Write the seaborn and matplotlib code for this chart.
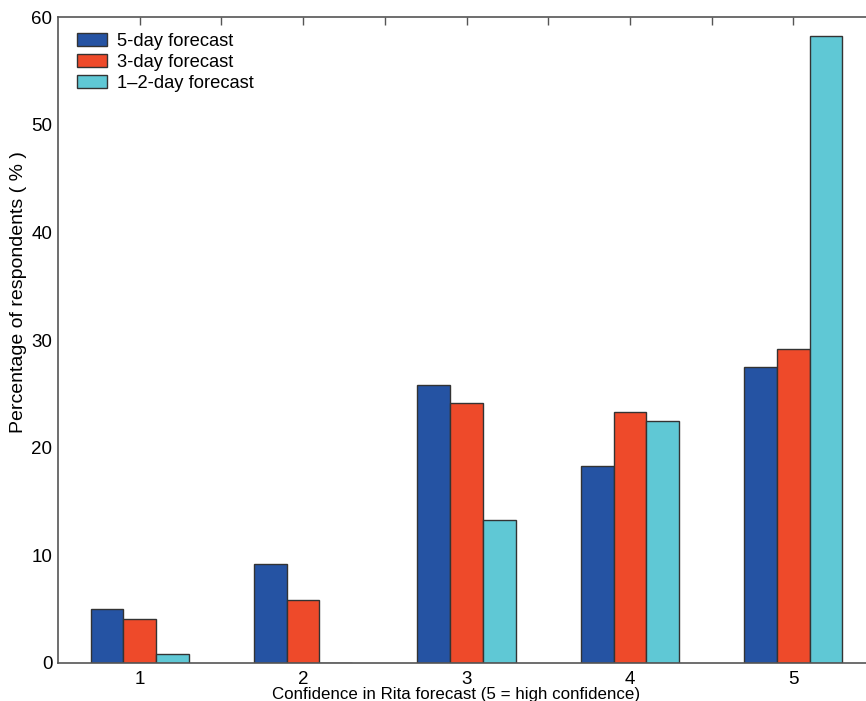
import matplotlib
matplotlib.use("Agg")
import matplotlib.pyplot as plt
import seaborn as sns
import pandas as pd
from matplotlib.ticker import FixedLocator

categories = ["1", "2", "3", "4", "5"]
series_names = ["5-day forecast", "3-day forecast", "1\u20132-day forecast"]
five_day = [5.0, 9.2, 25.8, 18.3, 27.5]
three_day = [4.1, 5.8, 24.1, 23.3, 29.2]
one_two_day = [0.8, 0.0, 13.3, 22.5, 58.3]
colors = ["#2553A3", "#EE4A2A", "#5FC8D5"]
y_ticks = [0, 10, 20, 30, 40, 50, 60]

rows = []
for name, vals in zip(series_names, [five_day, three_day, one_two_day]):
    for c, v in zip(categories, vals):
        rows.append({"conf": c, "series": name, "pct": v})
df = pd.DataFrame(rows)

sns.set_style("white")
plt.rcParams["font.family"] = ["Liberation Sans", "DejaVu Sans"]
plt.rcParams["text.color"] = "black"
plt.rcParams["axes.labelcolor"] = "black"

fig = plt.figure(figsize=(8.66, 7.01), dpi=100)
ax = fig.add_axes([58 / 866, (701 - 662.7) / 701, 817 / 866, 645.4 / 701])

sns.barplot(data=df, x="conf", y="pct", hue="series", order=categories,
            hue_order=series_names, palette=colors, width=0.6, gap=0,
            edgecolor="#333333", linewidth=1.0, saturation=1, ax=ax, errorbar=None)

ax.set_xlim(-0.5, 4.5)
ax.set_ylim(0, 60)
ax.set_yticks(y_ticks)
ax.set_xticks(range(len(categories)))
ax.set_xticklabels(categories)
ax.xaxis.set_minor_locator(FixedLocator([0.5, 1.5, 2.5, 3.5]))
ax.tick_params(axis="both", which="both", direction="in", top=True, right=True,
               length=6, width=1.0, color="#555555", labelsize=13.5, labelcolor="black")
ax.tick_params(axis="x", which="major", pad=6)
ax.tick_params(axis="y", which="major", pad=4)
for s in ax.spines.values():
    s.set_color("#555555")
    s.set_linewidth(1.2)

ax.set_xlabel("Confidence in Rita forecast (5 = high confidence)", fontsize=12.2, color="black")
ax.xaxis.set_label_coords((456 - 58) / 817, (662.7 - 686.5) / 645.4)
ax.set_ylabel("Percentage of respondents ( % )", fontsize=14, color="black")
ax.yaxis.set_label_coords((27 - 58) / 817, (662.7 - 292) / 645.4)

leg = ax.legend(loc="upper left", bbox_to_anchor=(0.007, 0.995), frameon=False,
                fontsize=13.2, handlelength=1.65, handleheight=0.72,
                handletextpad=0.55, labelspacing=0.2, borderaxespad=0.3)
for t in leg.get_texts():
    t.set_color("black")
for h in leg.legend_handles:
    h.set_edgecolor("#333333")
    h.set_linewidth(1.0)

fig.savefig("out.png", dpi=100)
